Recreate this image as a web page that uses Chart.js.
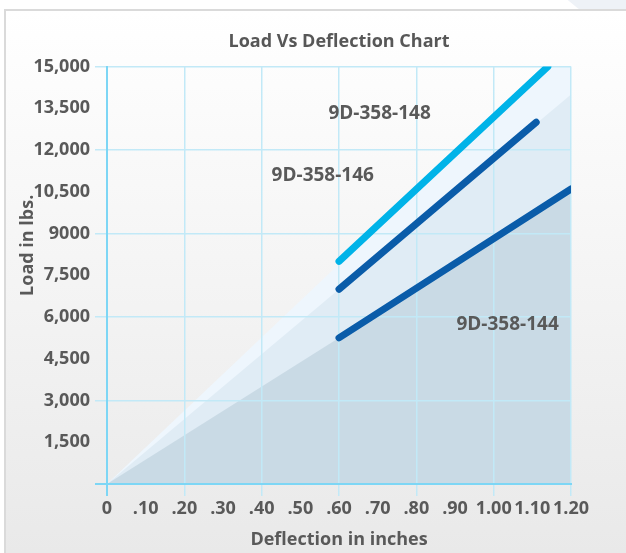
<!DOCTYPE html>
<html>
<head>
<meta charset="utf-8">
<script src="https://cdn.jsdelivr.net/npm/chart.js@4.4.0/dist/chart.umd.min.js"></script>
<style>
  html, body { margin: 0; padding: 0; background: #fff; }
  #wrap { position: relative; width: 626px; height: 553px; overflow: hidden; background: #fff; }
  #blob { position: absolute; left: 500px; top: -350px; width: 400px; height: 400px; border-radius: 50%; background: #eef2f7; }
  #card { position: absolute; left: 4px; top: 9px; right: 0; bottom: 0;
          border-left: 2px solid #dadada; border-top: 2px solid #dadada;
          background: linear-gradient(to bottom, #ffffff 0%, #e9e9e9 100%); }
  #c { position: absolute; left: 0; top: 0; }
</style>
</head>
<body>
<div id="wrap">
  <div id="blob"></div>
  <div id="card"></div>
  <canvas id="c" width="626" height="553"></canvas>
</div>
<script>
// ---- data ----
const chartTitle = 'Load Vs Deflection Chart';
const xAxisTitle = 'Deflection in inches';
const yAxisTitle = 'Load in lbs.';

const xTickLabels = ['0', '.10', '.20', '.30', '.40', '.50', '.60', '.70', '.80', '.90', '1.00', '1.10', '1.20'];
const yTickLabels = ['', '1,500', '3,000', '4,500', '6,000', '7,500', '9000', '10,500', '12,000', '13,500', '15,000'];

const seriesNames = ['9D-358-148', '9D-358-146', '9D-358-144'];
const deflection148 = [0.60, 1.14];
const load148 = [8000, 15000];
const deflection146 = [0.60, 1.11];
const load146 = [7000, 13000];
const deflection144 = [0.60, 1.20];
const load144 = [5250, 10600];

// series label anchors (data coordinates)
const labelDeflection = [0.705, 0.558, 1.036];
const labelLoad = [13300, 11100, 5720];

// background capacity bands (from origin to right edge)
const bandDeflection = [0, 1.20];
const bandLight = [0, 15800];
const bandMid = [0, 14000];
const bandDark = [0, 10500];

// ---- helpers ----
const pts = (xs, ys) => xs.map((x, i) => ({ x: x, y: ys[i] }));
const FONT = "'Open Sans', 'DejaVu Sans', sans-serif";
const TEXT = '#595959';
const GRID = '#c2e9f7';
const AXIS = '#7dd6f5';

const areaDs = (data, color) => ({
  data: data, showLine: true, fill: 'origin', backgroundColor: color,
  borderWidth: 0, pointRadius: 0, pointHoverRadius: 0, tension: 0
});
const lineDs = (label, data, color) => ({
  label: label, data: data, showLine: true, fill: false, borderColor: color,
  borderWidth: 7, borderCapStyle: 'round', pointRadius: 0, pointHoverRadius: 0, tension: 0
});

const textPlugin = {
  id: 'texts',
  afterDraw(chart) {
    const ctx = chart.ctx;
    const xs = chart.scales.x, ys = chart.scales.y, a = chart.chartArea;
    ctx.save();
    ctx.fillStyle = TEXT;
    ctx.font = "bold 19px " + FONT;
    ctx.textAlign = 'center';
    ctx.textBaseline = 'middle';
    seriesNames.forEach((n, i) => {
      ctx.fillText(n, xs.getPixelForValue(labelDeflection[i]), ys.getPixelForValue(labelLoad[i]));
    });
    // y axis title
    ctx.font = "bold 18px " + FONT;
    ctx.translate(a.left - 79, (a.top + a.bottom) / 2 - 30);
    ctx.rotate(-Math.PI / 2);
    ctx.fillText(yAxisTitle, 0, 0);
    ctx.restore();
  }
};

new Chart(document.getElementById('c'), {
  type: 'scatter',
  data: {
    datasets: [
      areaDs(pts(bandDeflection, bandDark), '#c9dae5'),
      areaDs(pts(bandDeflection, bandMid), '#e0ecf5'),
      areaDs(pts(bandDeflection, bandLight), '#eef6fd'),
      lineDs(seriesNames[2], pts(deflection144, load144), '#0a5ca9'),
      lineDs(seriesNames[1], pts(deflection146, load146), '#0a5ca9'),
      lineDs(seriesNames[0], pts(deflection148, load148), '#00b3e8')
    ]
  },
  options: {
    responsive: false,
    devicePixelRatio: 1,
    animation: false,
    layout: { padding: { left: 0, right: 55, top: 0, bottom: 0 } },
    plugins: {
      legend: { display: false },
      tooltip: { enabled: false },
      filler: { drawTime: 'beforeDraw' },
      title: {
        display: true, text: chartTitle, color: '#575757', fullSize: false,
        font: { family: FONT, size: 18, weight: 'bold' },
        padding: { top: 31, bottom: 14 }
      }
    },
    scales: {
      x: {
        type: 'linear', min: 0, max: 1.2,
        afterFit(s) { s.height = 69; },
        ticks: {
          stepSize: 0.1, autoSkip: false, maxRotation: 0, minRotation: 0, padding: 2,
          color: TEXT, font: { family: FONT, size: 18, weight: 'bold' },
          callback: (v, i) => xTickLabels[i]
        },
        grid: {
          tickLength: 12,
          lineWidth: (c) => (c.index === 0 ? 2 : 1.5),
          color: (c) => (c.index % 2 === 0 ? (c.index === 0 ? AXIS : GRID) : 'rgba(0,0,0,0)'),
          tickColor: (c) => (c.index % 2 === 0 ? (c.index === 0 ? AXIS : GRID) : 'rgba(0,0,0,0)')
        },
        border: { display: true, color: AXIS, width: 2 },
        title: {
          display: true, text: xAxisTitle, color: TEXT,
          font: { family: FONT, size: 18, weight: 'bold' },
          padding: { top: 0, bottom: 2 }
        }
      },
      y: {
        type: 'linear', min: 0, max: 15000,
        afterFit(s) { s.width = 107; },
        ticks: {
          stepSize: 1500, autoSkip: false, padding: 5,
          color: TEXT, font: { family: FONT, size: 18, weight: 'bold' },
          callback: (v, i) => yTickLabels[i]
        },
        grid: {
          tickLength: 12,
          lineWidth: (c) => (c.index === 0 ? 2 : 1.5),
          color: (c) => (c.index % 2 === 0 ? (c.index === 0 ? AXIS : GRID) : 'rgba(0,0,0,0)'),
          tickColor: (c) => (c.index % 2 === 0 ? (c.index === 0 ? AXIS : GRID) : 'rgba(0,0,0,0)')
        },
        border: { display: true, color: AXIS, width: 2 }
      }
    }
  },
  plugins: [textPlugin]
});
</script>
</body>
</html>
